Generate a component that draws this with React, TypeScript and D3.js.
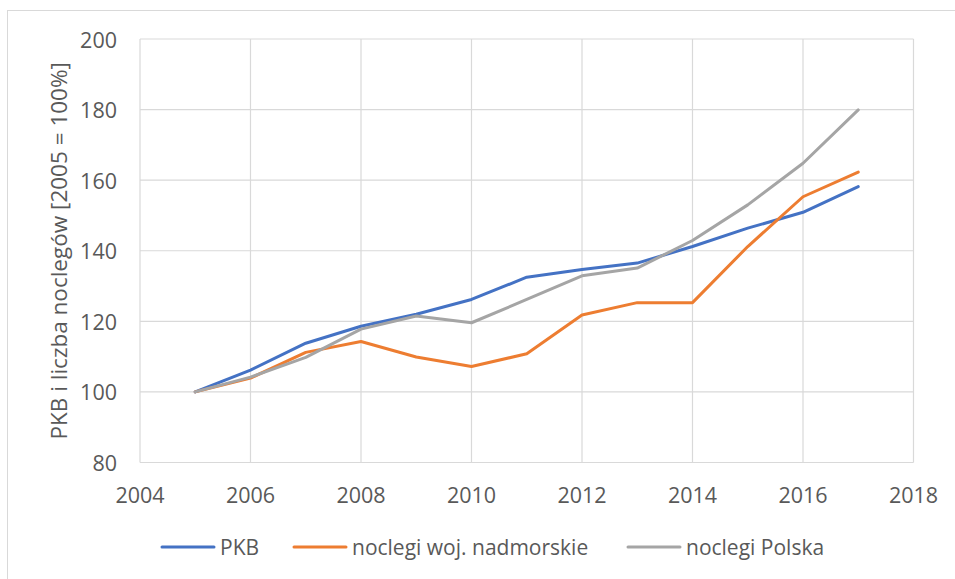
import React from "react";
import * as d3 from "d3";

const years = [2005, 2006, 2007, 2008, 2009, 2010, 2011, 2012, 2013, 2014, 2015, 2016, 2017];
const pkb = [100, 106.2, 113.8, 118.6, 122.0, 126.2, 132.5, 134.7, 136.5, 141.2, 146.4, 150.9, 158.2];
const noclegiNadmorskie = [100, 103.9, 111.2, 114.3, 109.9, 107.2, 110.8, 121.8, 125.3, 125.3, 141.2, 155.3, 162.3];
const noclegiPolska = [100, 104.2, 109.8, 117.8, 121.5, 119.6, 126.2, 132.9, 135.1, 142.9, 153.0, 164.8, 179.9];
const xTicks = [2004, 2006, 2008, 2010, 2012, 2014, 2016, 2018];
const yTicks = [80, 100, 120, 140, 160, 180, 200];
const seriesNames = ["PKB", "noclegi woj. nadmorskie", "noclegi Polska"];
const seriesColors = ["#4472C4", "#ED7D31", "#A5A5A5"];

const W = 955;
const H = 579;
const FONT = "'Open Sans', sans-serif";

export default function App() {
  const x = d3.scaleLinear().domain([2004, 2018]).range([140, 913.5]);
  const y = d3.scaleLinear().domain([80, 200]).range([462.5, 39]);
  const line = d3
    .line<[number, number]>()
    .x((d) => x(d[0]))
    .y((d) => y(d[1]));
  const series = [pkb, noclegiNadmorskie, noclegiPolska];
  const legendX = [162, 294, 628];

  return (
    <svg
      width={W}
      height={H}
      style={{ position: "absolute", left: 0, top: 0, background: "#fff" }}
    >
      <rect x={7.5} y={10.5} width={W} height={H} fill="#fff" stroke="#d9d9d9" strokeWidth={1} />
      {yTicks.map((t) => (
        <line key={"gy" + t} x1={x(2004)} x2={x(2018)} y1={y(t)} y2={y(t)} stroke="#d9d9d9" strokeWidth={1.2} />
      ))}
      {xTicks.map((t) => (
        <line key={"gx" + t} x1={x(t)} x2={x(t)} y1={y(80)} y2={y(200)} stroke="#d9d9d9" strokeWidth={1.2} />
      ))}
      {yTicks.map((t) => (
        <text
          key={"ty" + t}
          x={117}
          y={y(t)}
          textAnchor="end"
          dominantBaseline="central"
          fontFamily={FONT}
          fontSize={21.5}
          fill="#595959"
        >
          {t}
        </text>
      ))}
      {xTicks.map((t) => (
        <text
          key={"tx" + t}
          x={x(t)}
          y={494}
          textAnchor="middle"
          dominantBaseline="central"
          fontFamily={FONT}
          fontSize={21.5}
          fill="#595959"
        >
          {t}
        </text>
      ))}
      <text
        transform={`translate(58, ${(y(80) + y(200)) / 2}) rotate(-90)`}
        textAnchor="middle"
        dominantBaseline="central"
        fontFamily={FONT}
        fontSize={22.5}
        fill="#595959"
      >
        PKB i liczba noclegów [2005 = 100%]
      </text>
      {series.map((s, i) => (
        <path
          key={"s" + i}
          d={line(years.map((yr, j) => [yr, s[j]] as [number, number])) || ""}
          fill="none"
          stroke={seriesColors[i]}
          strokeWidth={3}
          strokeLinejoin="round"
          strokeLinecap="round"
        />
      ))}
      {seriesNames.map((n, i) => (
        <g key={"l" + i}>
          <line x1={legendX[i]} x2={legendX[i] + 52} y1={547} y2={547} stroke={seriesColors[i]} strokeWidth={3} strokeLinecap="round" />
          <text
            x={legendX[i] + 58}
            y={547}
            dominantBaseline="central"
            fontFamily={FONT}
            fontSize={21}
            fill="#595959"
          >
            {n}
          </text>
        </g>
      ))}
    </svg>
  );
}
